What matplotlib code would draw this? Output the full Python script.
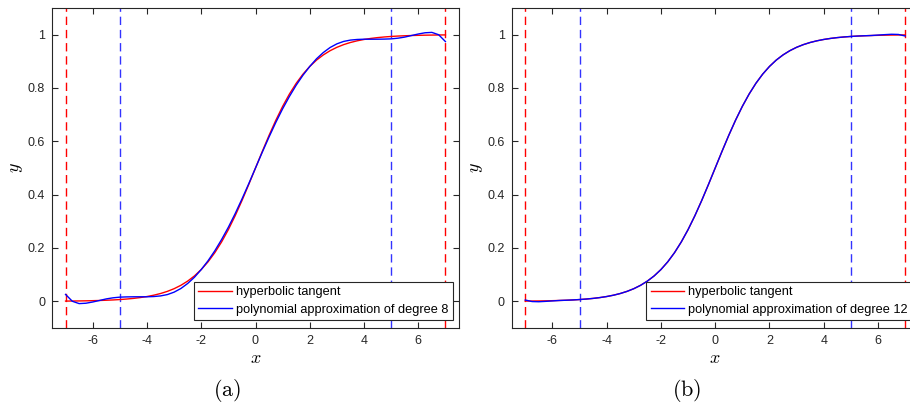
"""
Sigmoid ("hyperbolic tangent") vs. polynomial approximations, two panels.
Values are read off the reference picture.
"""

import matplotlib
matplotlib.use("Agg")
import matplotlib.pyplot as plt

plt.rcParams["font.family"] = ["Liberation Sans", "DejaVu Sans"]
plt.rcParams["mathtext.fontset"] = "cm"

# --- data (sampled every 0.25) ---
x_vals = [-7.0, -6.75, -6.5, -6.25, -6.0, -5.75, -5.5, -5.25, -5.0, -4.75,
          -4.5, -4.25, -4.0, -3.75, -3.5, -3.25, -3.0, -2.75, -2.5, -2.25,
          -2.0, -1.75, -1.5, -1.25, -1.0, -0.75, -0.5, -0.25, 0.0,
          0.25, 0.5, 0.75, 1.0, 1.25, 1.5, 1.75, 2.0, 2.25, 2.5,
          2.75, 3.0, 3.25, 3.5, 3.75, 4.0, 4.25, 4.5, 4.75, 5.0,
          5.25, 5.5, 5.75, 6.0, 6.25, 6.5, 6.75, 7.0]

tanh_vals = [0.0009, 0.0012, 0.0015, 0.0019, 0.0025, 0.0032, 0.0041, 0.0052,
             0.0067, 0.0086, 0.0110, 0.0141, 0.0180, 0.0230, 0.0293, 0.0373,
             0.0474, 0.0601, 0.0759, 0.0953, 0.1192, 0.1480, 0.1824, 0.2227,
             0.2689, 0.3208, 0.3775, 0.4378, 0.5000,
             0.5622, 0.6225, 0.6792, 0.7311, 0.7773, 0.8176, 0.8520, 0.8808,
             0.9047, 0.9241, 0.9399, 0.9526, 0.9627, 0.9707, 0.9770, 0.9820,
             0.9859, 0.9890, 0.9914, 0.9933, 0.9948, 0.9959, 0.9968, 0.9975,
             0.9981, 0.9985, 0.9988, 0.9991]

poly8_vals = [0.0259, 0.0002, -0.0085, -0.0071, -0.0025, 0.0032, 0.0091,
              0.0132, 0.0157, 0.0166, 0.0170, 0.0171, 0.0170, 0.0180, 0.0203,
              0.0253, 0.0344, 0.0481, 0.0669, 0.0903, 0.1192, 0.1520, 0.1894,
              0.2317, 0.2779, 0.3288, 0.3835, 0.4408, 0.5000,
              0.5592, 0.6165, 0.6712, 0.7221, 0.7683, 0.8106, 0.8480, 0.8808,
              0.9097, 0.9331, 0.9519, 0.9656, 0.9747, 0.9797, 0.9820, 0.9830,
              0.9829, 0.9830, 0.9834, 0.9843, 0.9868, 0.9909, 0.9968, 1.0025,
              1.0071, 1.0085, 0.9998, 0.9741]

poly12_vals = [0.0049, -0.0008, -0.0015, -0.0001, 0.0015, 0.0032, 0.0041,
               0.0052, 0.0067, 0.0086, 0.0110, 0.0141, 0.0180, 0.0230, 0.0293,
               0.0373, 0.0474, 0.0601, 0.0759, 0.0953, 0.1192, 0.1480, 0.1824,
               0.2227, 0.2689, 0.3208, 0.3775, 0.4378, 0.5000,
               0.5622, 0.6225, 0.6792, 0.7311, 0.7773, 0.8176, 0.8520, 0.8808,
               0.9047, 0.9241, 0.9399, 0.9526, 0.9627, 0.9707, 0.9770, 0.9820,
               0.9859, 0.9890, 0.9914, 0.9933, 0.9948, 0.9959, 0.9968, 0.9985,
               1.0001, 1.0015, 1.0008, 0.9951]

panels = [("(a)", "polynomial approximation of degree 8", poly8_vals),
          ("(b)", "polynomial approximation of degree 12", poly12_vals)]

x_ticks = [-6, -4, -2, 0, 2, 4, 6]
y_ticks = [0, 0.2, 0.4, 0.6, 0.8, 1]
y_tick_labels = ["0", "0.2", "0.4", "0.6", "0.8", "1"]
red_bounds = [-7, 7]
blue_bounds = [-5, 5]

W, H = 910, 404
fig = plt.figure(figsize=(W / 100, H / 100), dpi=100)

axes_left_px = [52, 511.7]
for (tag, poly_label, poly_vals), left_px in zip(panels, axes_left_px):
    ax = fig.add_axes([left_px / W, (H - 328) / H, 407 / W, 320 / H])

    for xb in red_bounds:
        ax.axvline(xb, color="#ff0000", lw=1.0, ls=(0, (6, 3.5)), zorder=1)
    for xb in blue_bounds:
        ax.axvline(xb, color="#3333ff", lw=1.0, ls=(0, (6, 3.5)), zorder=1)

    ax.plot(x_vals, tanh_vals, color="#ff0000", lw=1.0,
            label="hyperbolic tangent", zorder=2)
    ax.plot(x_vals, poly_vals, color="#0000ff", lw=1.0,
            label=poly_label, zorder=3)

    ax.set_xlim(-7.5, 7.5)
    ax.set_ylim(-0.1, 1.1)
    ax.set_xticks(x_ticks)
    ax.set_xticklabels([str(t) for t in x_ticks])
    ax.set_yticks(y_ticks)
    ax.set_yticklabels(y_tick_labels)
    ax.tick_params(direction="in", length=4, width=0.8, top=True, right=True,
                   labelsize=9, colors="#262626", pad=5)
    for sp in ax.spines.values():
        sp.set_color("#262626")
        sp.set_linewidth(0.8)

    ax.set_xlabel("$x$", fontsize=13, labelpad=2)
    ax.set_ylabel("$y$", fontsize=13, labelpad=2)

    leg = ax.legend(loc="lower right", bbox_to_anchor=(0.985, 0.025),
                    borderaxespad=0, fancybox=False, framealpha=1,
                    edgecolor="#262626", fontsize=9.2, handlelength=2.6,
                    handletextpad=0.35, borderpad=0.35, labelspacing=0.4)
    leg.get_frame().set_linewidth(0.8)

    fig.text((left_px + 175) / W, (H - 391) / H, "$\\mathrm{" + tag + "}$",
             fontsize=16, ha="center", va="center")

fig.savefig("out.png", dpi=100)
